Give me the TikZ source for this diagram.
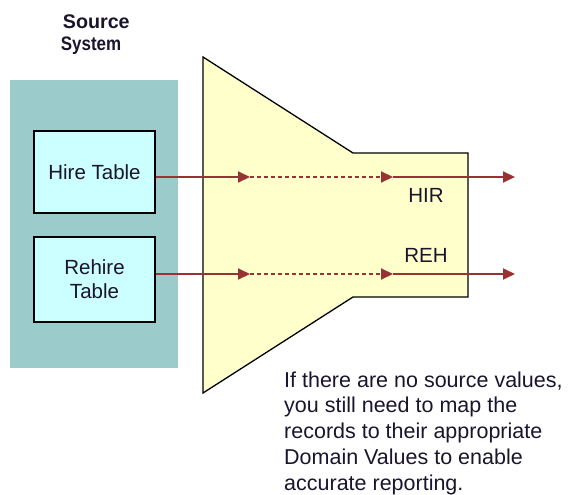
\documentclass[tikz,border=0pt]{standalone}
\usepackage{fontspec}
\setmainfont{Liberation Sans}
\usetikzlibrary{arrows.meta}
\definecolor{tealbg}{RGB}{156,203,203}
\definecolor{cyanbox}{RGB}{204,255,255}
\definecolor{funnel}{RGB}{255,255,204}
\definecolor{arrowred}{RGB}{153,51,51}
\definecolor{txt}{RGB}{26,20,45}
\tikzset{
  tablebox/.style={draw=black, line width=1.6pt, fill=cyanbox, minimum width=121pt, minimum height=82pt, inner sep=0pt, align=center, text=txt, font=\fontsize{20.5}{24}\selectfont},
  flow/.style={draw=arrowred, line width=2pt, -{Triangle[length=12pt,width=11pt]}},
  flowdash/.style={flow, dash pattern=on 4pt off 3pt},
  lbl/.style={text=txt, inner sep=0pt, font=\fontsize{20.5}{24}\selectfont}
}
\begin{document}
\begin{tikzpicture}[x=1pt,y=-1pt]
\useasboundingbox (0,0) rectangle (573,495);
% source system background
\node[fill=tealbg, minimum width=168pt, minimum height=288pt, inner sep=0pt] (srcsys) at (94,224) {};
\node[anchor=base west, inner sep=0pt, text=txt, font=\bfseries\fontsize{19.7}{22}\selectfont] (t1) at (62.7,29) {Source};
\node[anchor=base west, inner sep=0pt, text=txt, font=\bfseries\fontsize{19.5}{22}\selectfont] (t2) at (60.7,50.7) {\scalebox{0.87}[1]{System}};
% funnel
\filldraw[fill=funnel, draw=black, line width=1.3pt, line join=miter]
  (203,57) -- (353,153) -- (468,153) -- (468,297) -- (353,297) -- (203,393) -- cycle;
% tables
\node[tablebox] (hire) at (94.5,172) {Hire Table};
\node[tablebox, minimum height=85pt] (rehire) at (94.5,279.5) {Rehire\\Table};
% labels
\node[lbl] (hir) at (426,195) {HIR};
\node[lbl] (reh) at (426,255) {REH};
% flow coordinates
\coordinate (h1) at (250,177);
\coordinate (h2) at (393,177);
\coordinate (h3) at (515,177);
\coordinate (r1) at (250,274);
\coordinate (r2) at (393,274);
\coordinate (r3) at (515,274);
\draw[flow] ([yshift=-5pt]hire.east) -- (h1);
\draw[flowdash] (h1) -- (h2);
\draw[flow] (h2) -- (h3);
\draw[flow] ([yshift=5.5pt]rehire.east) -- (r1);
\draw[flowdash] (r1) -- (r2);
\draw[flow] (r2) -- (r3);
% note
\node[anchor=north west, inner sep=0pt, align=left, text=txt, font=\fontsize{21.5}{25.7}\selectfont] (note) at (284,371.5)
  {If there are no source values,\\you still need to map the\\records to their appropriate\\Domain Values to enable\\accurate reporting.};
\end{tikzpicture}
\end{document}
